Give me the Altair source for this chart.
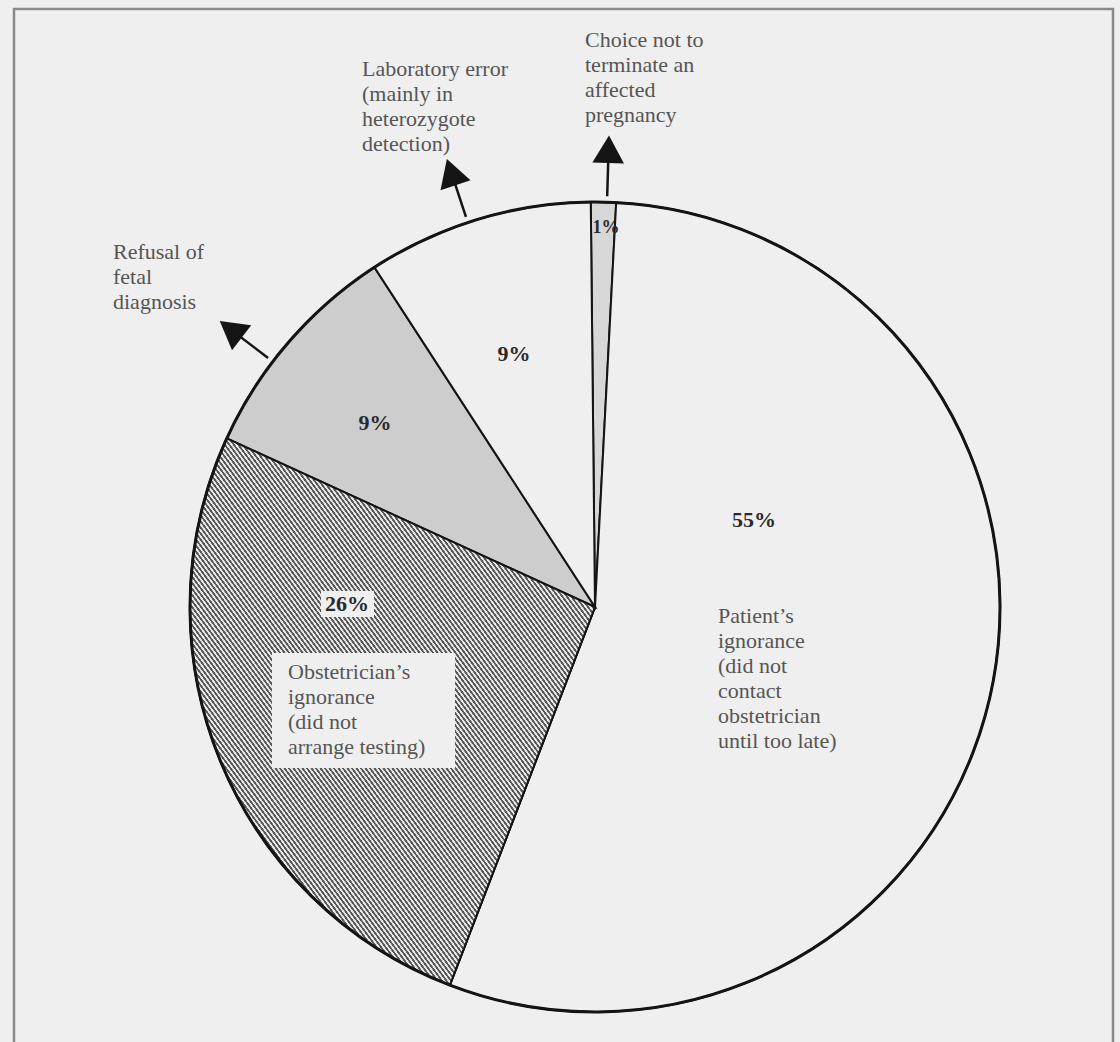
import math
import altair as alt
import pandas as pd

# ---------------- data ----------------
categories = [
    "Choice not to terminate an affected pregnancy",
    "Patient's ignorance",
    "Obstetrician's ignorance",
    "Refusal of fetal diagnosis",
    "Laboratory error",
]
shares = [1, 55, 26, 9, 9]
pct_labels = ["1%", "55%", "26%", "9%", "9%"]
fill_keys = ["light", "plain", "hatch", "stipple", "plain"]
callout_texts = [
    "Choice not to\nterminate an\naffected\npregnancy",
    "Patient\u2019s\nignorance\n(did not\ncontact\nobstetrician\nuntil too late)",
    "Obstetrician\u2019s\nignorance\n(did not\narrange testing)",
    "Refusal of\nfetal\ndiagnosis",
    "Laboratory error\n(mainly in\nheterozygote\ndetection)",
]
arrow_slices = [0, 3, 4]  # slices whose callouts sit outside the pie

# ---------------- layout / style ----------------
W, H = 1120, 1042
CX, CY, R = 595, 607, 405
START_DEG = -0.6
BG = "#efefef"
INK = "#141414"
LABEL_COLOR = "#555555"
PCT_COLOR = "#2a2a2a"
FONT = "Liberation Serif"

fill_domain = ["plain", "light", "stipple", "hatch"]
fill_range = [BG, "#d7d7d7", "#cdcdcd", "#a8a8a8"]

pct_pos = [(606, 228, 18), (754, 520, 22), (347, 604, 22), (375, 423, 22), (514, 354, 22)]
callout_pos = [(585, 47), (718, 623), (288, 679), (113, 259), (362, 76)]
arrow_nudge_deg = {0: 0.5, 3: -3.5, 4: -1.5}
label_boxes = [(321, 374, 591, 617), (272, 455, 653, 768)]

# ---------------- tables ----------------
cum = [0]
for s in shares:
    cum.append(cum[-1] + s)
pie_df = pd.DataFrame({
    "category": categories,
    "share": shares,
    "start": cum[:-1],
    "end": cum[1:],
    "fillkey": fill_keys,
})

a0 = math.radians(START_DEG) + 2 * math.pi
theta_scale = alt.Scale(domain=[0, 100], range=[a0, a0 + 2 * math.pi])

# arrows computed from slice mid-angles
rows = []
for i in arrow_slices:
    mid = START_DEG + (cum[i] + cum[i + 1]) / 2 * 3.6 + arrow_nudge_deg[i]
    t = math.radians(mid)
    sx, sy = math.sin(t), -math.cos(t)
    rows.append({
        "x1": CX + (R + 6) * sx, "y1": CY + (R + 6) * sy,
        "x2": CX + (R + 42) * sx, "y2": CY + (R + 42) * sy,
        "hx": CX + (R + 53) * sx, "hy": CY + (R + 53) * sy,
        "rot": mid % 360,
    })
arrow_df = pd.DataFrame(rows)

pct_df = pd.DataFrame({
    "text": pct_labels,
    "x": [p[0] for p in pct_pos],
    "y": [p[1] for p in pct_pos],
    "fs": [p[2] for p in pct_pos],
})
call_df = pd.DataFrame({
    "text": callout_texts,
    "x": [p[0] for p in callout_pos],
    "y": [p[1] for p in callout_pos],
})
box_df = pd.DataFrame(label_boxes, columns=["x", "x2", "y", "y2"])

# hatch gradient (diagonal stripes)
N = 180
stops = []
for k in range(N):
    o = k / N
    stops += [
        {"offset": round(o, 6), "color": "#eeeeee"},
        {"offset": round(o + 0.42 / N, 6), "color": "#e2e2e2"},
        {"offset": round(o + 0.50 / N, 6), "color": "#555555"},
        {"offset": round(o + 0.92 / N, 6), "color": "#5a5a5a"},
    ]
stops.append({"offset": 1, "color": "#eeeeee"})
hatch = {"gradient": "linear", "x1": 0, "y1": 1, "x2": 1, "y2": 0, "stops": stops}

# ---------------- charts ----------------
frame = alt.Chart(pd.DataFrame({"k": [0]})).mark_rect(
    filled=False, color="#8a8a8a", strokeWidth=2.5
).encode(x=alt.value(14), x2=alt.value(1113), y=alt.value(9), y2=alt.value(1070))

pie = alt.Chart(pie_df).mark_arc(radius=R, stroke=INK, strokeWidth=2).encode(
    x=alt.value(CX), y=alt.value(CY),
    theta=alt.Theta("start:Q", scale=theta_scale, stack=None),
    theta2="end:Q",
    color=alt.Color("fillkey:N", scale=alt.Scale(domain=fill_domain, range=fill_range), legend=None),
)

hatched = alt.Chart(pie_df).transform_filter(alt.datum.fillkey == "hatch").mark_arc(
    radius=R, fill=hatch, stroke=INK, strokeWidth=2
).encode(
    x=alt.value(CX), y=alt.value(CY),
    theta=alt.Theta("start:Q", scale=theta_scale, stack=None),
    theta2="end:Q",
)

ring = alt.Chart(pd.DataFrame({"start": [0], "end": [100]})).mark_arc(
    radius=R, fillOpacity=0, stroke=INK, strokeWidth=3
).encode(
    x=alt.value(CX), y=alt.value(CY),
    theta=alt.Theta("start:Q", scale=theta_scale, stack=None),
    theta2="end:Q",
)

boxes = alt.Chart(box_df).mark_rect(color=BG).encode(
    x=alt.X("x:Q", scale=None), x2="x2:Q",
    y=alt.Y("y:Q", scale=None), y2="y2:Q",
)

shafts = alt.Chart(arrow_df).mark_rule(color=INK, strokeWidth=2.5).encode(
    x=alt.X("x1:Q", scale=None), y=alt.Y("y1:Q", scale=None),
    x2="x2:Q", y2="y2:Q",
)

heads = alt.Chart(arrow_df).mark_point(
    shape="M0,-0.87L1,0.87L-1,0.87Z", filled=True, color=INK, opacity=1, size=1000
).encode(
    x=alt.X("hx:Q", scale=None), y=alt.Y("hy:Q", scale=None),
    angle=alt.Angle("rot:Q", scale=None),
)

pcts = alt.Chart(pct_df).mark_text(
    font=FONT, fontWeight="bold", color=PCT_COLOR, align="center", baseline="middle"
).encode(
    x=alt.X("x:Q", scale=None), y=alt.Y("y:Q", scale=None),
    size=alt.Size("fs:Q", scale=None), text="text:N",
)

callouts = alt.Chart(call_df).mark_text(
    font=FONT, fontSize=22, color=LABEL_COLOR, align="left", baseline="alphabetic",
    lineBreak="\n", lineHeight=25
).encode(
    x=alt.X("x:Q", scale=None), y=alt.Y("y:Q", scale=None), text="text:N",
)

chart = alt.layer(frame, pie, hatched, ring, boxes, shafts, heads, pcts, callouts).properties(
    width=W, height=H, autosize="none", padding=0, background=BG
).configure_view(stroke=None)

chart.save("out.html", embed_options={"renderer": "svg", "actions": False})
